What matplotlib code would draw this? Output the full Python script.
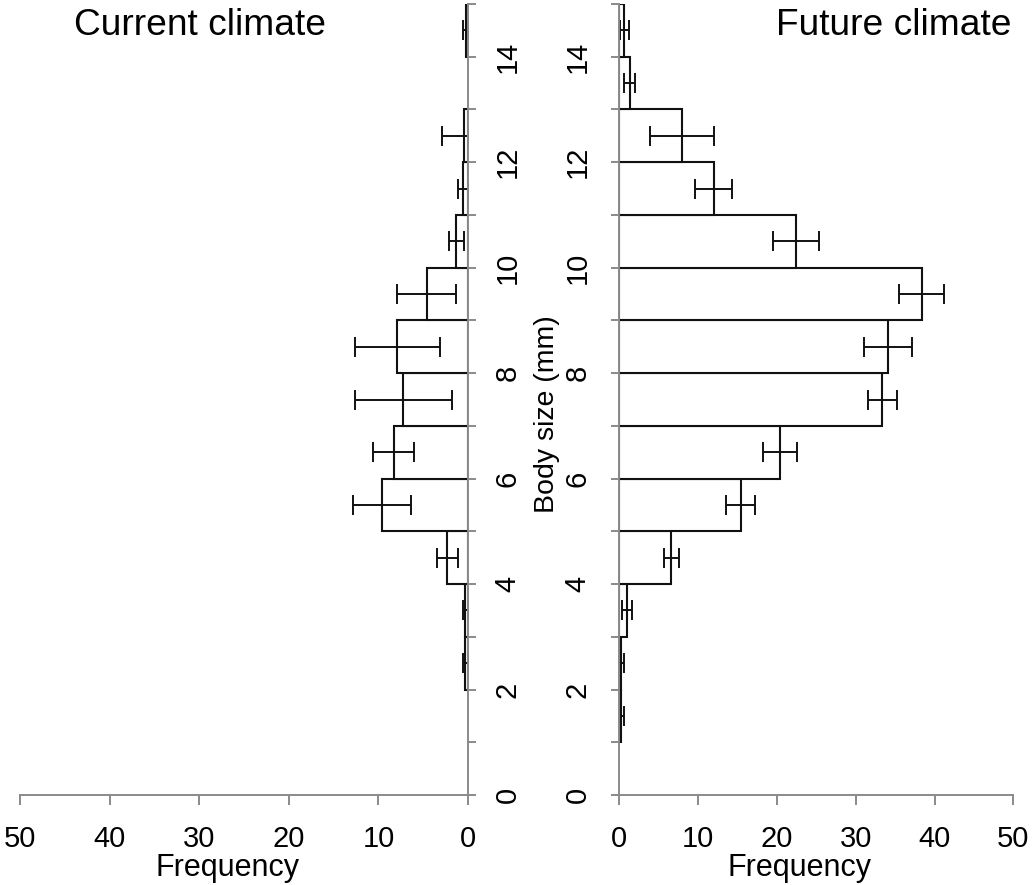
import matplotlib
matplotlib.use("Agg")
import matplotlib.pyplot as plt
import numpy as np

plt.rcParams['font.family'] = ['Liberation Sans', 'DejaVu Sans']

# Body-size bins (mm), lower edge of each 1 mm class
bin_start = np.arange(0, 15)

# Mean frequency and error per bin
current_freq = [0, 0, 0.3, 0.3, 2.3, 9.6, 8.3, 7.2, 7.9, 4.6, 1.3, 0.55, 0.5, 0, 0.25]
current_err = [0, 0, 0.3, 0.3, 1.2, 3.2, 2.3, 5.4, 4.75, 3.3, 0.85, 0.6, 2.4, 0, 0.3]

future_freq = [0, 0.25, 0.25, 1.0, 6.6, 15.4, 20.4, 33.4, 34.1, 38.4, 22.4, 12.0, 8.0, 1.3, 0.65]
future_err = [0, 0.3, 0.3, 0.6, 0.95, 1.85, 2.2, 1.9, 3.0, 2.85, 2.95, 2.35, 4.05, 0.65, 0.6]

freq_ticks = [0, 10, 20, 30, 40, 50]
size_ticks = list(range(0, 16))
size_labels = [str(v) if v % 2 == 0 and v < 15 else "" for v in size_ticks]

W, H = 1036, 885
fig = plt.figure(figsize=(W / 100, H / 100), dpi=100)

AXIS_GREY = "#8a8a8a"
y0_px, y15_px = 795, 4
bottom = (H - y0_px) / H
height = (y0_px - y15_px) / H

ax_l = fig.add_axes([20 / W, bottom, (468 - 20) / W, height])
ax_r = fig.add_axes([619.3 / W, bottom, (1013.3 - 619.3) / W, height])

TICK_FS = 21


def draw_panel(ax, freq, err):
    freq = np.asarray(freq, float)
    err = np.asarray(err, float)
    mask = freq > 0
    ax.barh(bin_start[mask], freq[mask], height=1.0, align="edge",
            color="white", edgecolor="#111111", linewidth=1.5)
    lower = np.minimum(err, freq)
    ax.errorbar(freq[mask], bin_start[mask] + 0.5,
                xerr=[lower[mask], err[mask]], fmt="none",
                ecolor="#111111", elinewidth=1.4, capsize=7, capthick=1.4)
    ax.set_ylim(0, 15)
    for s in ax.spines.values():
        s.set_color(AXIS_GREY)
        s.set_linewidth(1.4)
    ax.spines["top"].set_visible(False)
    ax.set_xticks(freq_ticks)
    ax.set_xticklabels([str(v) for v in freq_ticks], fontsize=TICK_FS)
    ax.tick_params(axis="x", direction="out", length=7.5, width=1.4,
                   color=AXIS_GREY, pad=14)
    ax.tick_params(axis="y", direction="out", length=6, width=1.4,
                   color=AXIS_GREY)
    ax.set_facecolor("none")


# Current climate: mirrored, bars grow leftwards
draw_panel(ax_l, current_freq, current_err)
ax_l.set_xlim(50, 0)
ax_l.spines["left"].set_visible(False)
ax_l.yaxis.tick_right()
ax_l.set_yticks(size_ticks)
ax_l.set_yticklabels(size_labels, rotation=90, va="center", fontsize=TICK_FS)
ax_l.tick_params(axis="y", pad=12.5)

# Future climate
draw_panel(ax_r, future_freq, future_err)
ax_r.set_xlim(0, 50)
ax_r.spines["right"].set_visible(False)
ax_r.yaxis.tick_left()
ax_r.set_yticks(size_ticks)
ax_r.set_yticklabels(size_labels, rotation=90, va="center", fontsize=TICK_FS)
ax_r.tick_params(axis="y", pad=14)

# Axis titles
ax_l.set_xlabel("Frequency", fontsize=22)
ax_l.xaxis.set_label_coords((227 - 20) / 448, (795 - 868) / 791)
ax_l.xaxis.label.set_va("center")
ax_r.set_xlabel("Frequency", fontsize=22)
ax_r.xaxis.set_label_coords((800 - 619.3) / 394, (795 - 868) / 791)
ax_r.xaxis.label.set_va("center")

fig.text(547 / W, 1 - 414 / H, "Body size (mm)", rotation=90,
         ha="center", va="center", fontsize=20.5)

fig.text(74 / W, 1 - 35 / H, "Current climate", ha="left", va="baseline", fontsize=26.7)
fig.text(1012 / W, 1 - 35 / H, "Future climate", ha="right", va="baseline", fontsize=26.7)

fig.savefig("out.png", dpi=100, facecolor="white")
